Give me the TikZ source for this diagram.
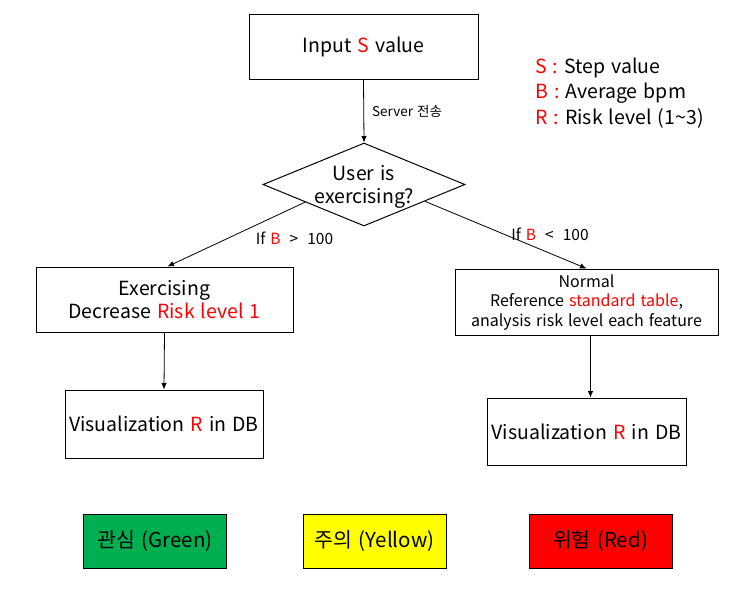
\documentclass[tikz,border=0pt]{standalone}
\usepackage{fontspec}
\setmainfont[WordSpace=1.4]{Noto Sans CJK KR}
\usetikzlibrary{shapes.geometric,arrows.meta,calc}
\definecolor{gbox}{HTML}{00B050}
\definecolor{ybox}{HTML}{FFFF00}
\definecolor{rbox}{HTML}{FF0000}
\newcommand{\rd}[1]{\textcolor{red}{#1}}
\begin{document}
\begin{tikzpicture}[x=1pt,y=-1pt,
  box/.style={draw=black,line width=1pt,rectangle,inner sep=0pt,align=center,font=\fontsize{19.5}{23}\selectfont},
  smallbox/.style={box,font=\fontsize{16}{19.5}\selectfont},
  colbox/.style={draw=black,line width=1pt,rectangle,inner sep=0pt,minimum width=143pt,minimum height=54pt,font=\fontsize{20.5}{24}\selectfont},
  arr/.style={-{Latex[length=6.5pt,width=5.5pt]},line width=0.8pt},
  lbl/.style={inner sep=0pt,font=\fontsize{15.5}{18}\selectfont},
  leg/.style={inner sep=0pt,anchor=west,font=\fontsize{19.5}{23}\selectfont}]
\useasboundingbox (0,0) rectangle (745,598);
% nodes
\node[box,minimum width=229pt,minimum height=65pt] (inp) at (363.5,46.5) {Input \rd{S} value};
\node[draw=black,line width=1pt,diamond,inner sep=0pt,minimum width=202pt,minimum height=83pt] (dia) at (364,184.5) {};
\node[inner sep=0pt,align=center,font=\fontsize{19.5}{23}\selectfont] (diat) at (364,187) {User is\\exercising?};
\node[box,minimum width=257pt,minimum height=65pt] (exe) at (164.5,299.5) {Exercising\\Decrease \rd{Risk level 1}};
\node[smallbox,minimum width=263pt,minimum height=66pt] (nor) at (586.5,302) {Normal\\Reference \rd{standard table},\\analysis risk level each feature};
\node[box,minimum width=198pt,minimum height=68pt] (vl) at (164,424) {Visualization \rd{R} in DB};
\node[box,minimum width=199pt,minimum height=67pt] (vr) at (586.5,431.5) {Visualization \rd{R} in DB};
% connectors
\draw[arr] (inp.south) -- (dia.north) node[lbl,midway,anchor=west,xshift=8pt] (srv) {\fontsize{13.5}{16}\selectfont Server 전송};
\coordinate (dl) at ($(dia.west)!0.42!(dia.south)$);
\coordinate (dr) at ($(dia.east)!0.4!(dia.south)$);
\draw[arr] (dl) -- ([xshift=3pt]exe.north);
\draw[arr] (dr) -- (nor.north);
\draw[arr] (exe.south) -- (vl.north);
\draw[arr] ([xshift=4pt]nor.south) -- ([xshift=4pt]vr.north);
% labels
\node[lbl] (l1) at (294.5,238.5) {If \rd{B} \;>\; 100};
\node[lbl] (l2) at (550,234.5) {If \rd{B} \;<\; 100};
% legend
\node[leg] (s1) at (535,68) {\rd{S :} Step value};
\node[leg] (s2) at (535,93) {\rd{B :} Average bpm};
\node[leg] (s3) at (535,118) {\rd{R :} Risk level (1\char"7E 3)};
% colour boxes
\node[colbox,fill=gbox] (g) at (155,541) {관심 (Green)};
\node[colbox,fill=ybox] (y) at (374.5,541) {주의 (Yellow)};
\node[colbox,fill=rbox] (r) at (600.5,541) {위험 (Red)};
\end{tikzpicture}
\end{document}
